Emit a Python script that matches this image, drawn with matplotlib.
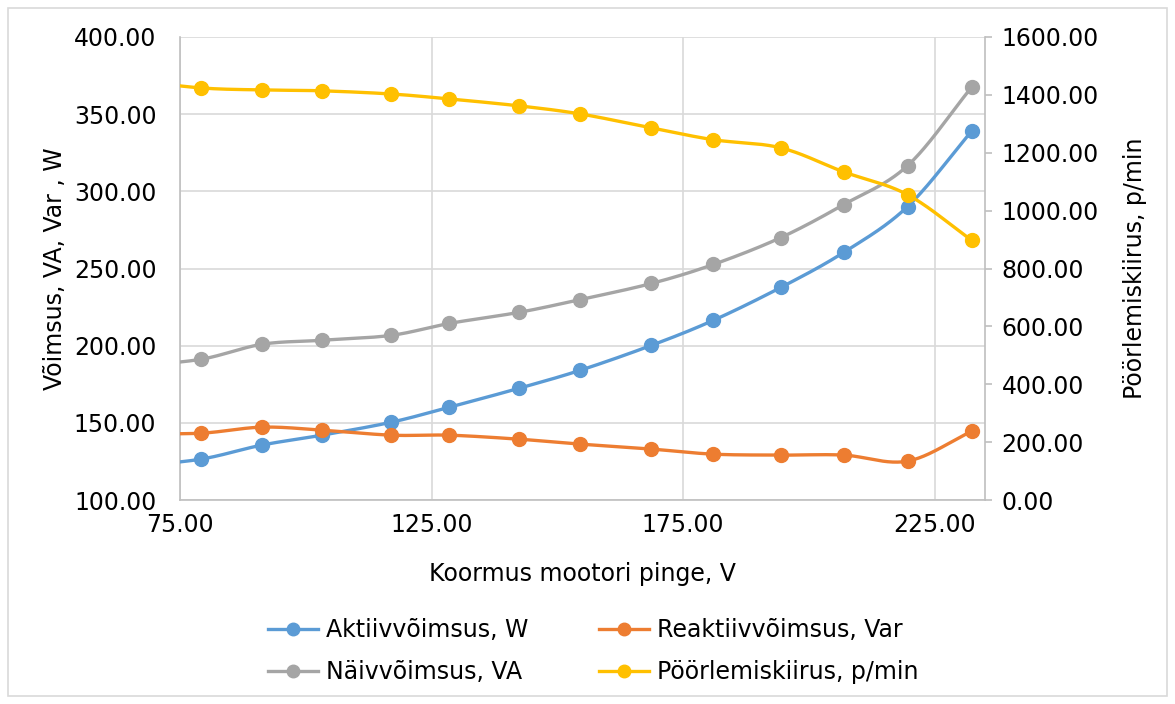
import numpy as np
import matplotlib
matplotlib.use("Agg")
import matplotlib.pyplot as plt
from matplotlib.patches import Rectangle

plt.rcParams['font.family'] = ['DejaVu Sans']

# Motor load voltage, V (first point lies just left of the visible axis range)
voltage = [66.0, 79.2, 91.3, 103.2, 117.0, 128.5, 142.4, 154.6, 168.7, 181.0, 194.4, 206.9, 219.6, 232.4]

active_power = [122.0, 126.5, 135.6, 142.0, 150.4, 160.1, 172.4, 184.1, 200.2, 216.4, 237.7, 260.4, 290.1, 339.2]
reactive_power = [143.0, 143.3, 147.2, 145.3, 142.0, 142.0, 139.4, 136.2, 133.0, 129.7, 129.1, 129.1, 125.2, 144.6]
apparent_power = [187.0, 191.2, 200.9, 203.5, 206.7, 214.4, 221.6, 229.9, 240.3, 252.6, 270.0, 291.4, 316.6, 367.7]
rotation_speed = [1450, 1424, 1417, 1414, 1403, 1386, 1362, 1334, 1286, 1245, 1217, 1134, 1055, 897]

series_names = ["Aktiivvõimsus, W", "Reaktiivvõimsus, Var", "Näivvõimsus, VA", "Pöörlemiskiirus, p/min"]
colors = ["#5B9BD5", "#ED7D31", "#A5A5A5", "#FFC000"]

x_ticks = [75, 125, 175, 225]
left_ticks = [100, 150, 200, 250, 300, 350, 400]
right_ticks = [0, 200, 400, 600, 800, 1000, 1200, 1400, 1600]


def smooth(xs, ys, n=40):
    """Catmull-Rom curve through the points, like a spreadsheet's smoothed line."""
    xs = np.asarray(xs, float)
    ys = np.asarray(ys, float)
    px = np.concatenate([[2 * xs[0] - xs[1]], xs, [2 * xs[-1] - xs[-2]]])
    py = np.concatenate([[2 * ys[0] - ys[1]], ys, [2 * ys[-1] - ys[-2]]])
    out_x, out_y = [], []
    t = np.linspace(0, 1, n)
    for i in range(1, len(px) - 2):
        x0, x1, x2, x3 = px[i - 1:i + 3]
        y0, y1, y2, y3 = py[i - 1:i + 3]
        # cubic Bezier with control points from neighbouring points
        c1x, c1y = x1 + (x2 - x0) / 6, y1 + (y2 - y0) / 6
        c2x, c2y = x2 - (x3 - x1) / 6, y2 - (y3 - y1) / 6
        bx = (1 - t) ** 3 * x1 + 3 * (1 - t) ** 2 * t * c1x + 3 * (1 - t) * t ** 2 * c2x + t ** 3 * x2
        by = (1 - t) ** 3 * y1 + 3 * (1 - t) ** 2 * t * c1y + 3 * (1 - t) * t ** 2 * c2y + t ** 3 * y2
        out_x.extend(bx)
        out_y.extend(by)
    return np.array(out_x), np.array(out_y)


fig = plt.figure(figsize=(11.75, 7.04), dpi=100)
fig.patches.append(Rectangle((8 / 1175, 8 / 704), 1 - 16 / 1175, 1 - 16 / 704,
                             transform=fig.transFigure, fill=False,
                             edgecolor="#D9D9D9", linewidth=1.2))

ax = fig.add_axes([180 / 1175, 1 - 500 / 704, 805 / 1175, 463 / 704])
ax2 = ax.twinx()

grid_col = "#D9D9D9"
lw = 2.4
ms = 10

handles = {}
for ys, col, name in zip([active_power, reactive_power, apparent_power], colors[:3], series_names[:3]):
    sx, sy = smooth(voltage, ys)
    ax.plot(sx, sy, color=col, lw=lw, solid_capstyle="round", zorder=3)
    ax.plot(voltage, ys, "o", color=col, ms=ms, zorder=4)
    h, = ax.plot([], [], "-o", color=col, lw=lw, ms=9, label=name)
    handles[name] = h

sx, sy = smooth(voltage, rotation_speed)
ax2.plot(sx, sy, color=colors[3], lw=lw, zorder=3)
ax2.plot(voltage, rotation_speed, "o", color=colors[3], ms=ms, zorder=4)
h, = ax2.plot([], [], "-o", color=colors[3], lw=lw, ms=9, label=series_names[3])
handles[series_names[3]] = h

ax.set_xlim(75, 235)
ax.set_ylim(100, 400)
ax2.set_ylim(0, 1600)
ax.set_xticks(x_ticks)
ax.set_xticklabels([f"{v:.2f}" for v in x_ticks])
ax.set_yticks(left_ticks)
ax.set_yticklabels([f"{v:.2f}" for v in left_ticks])
ax2.set_yticks(right_ticks)
ax2.set_yticklabels([f"{v:.2f}" for v in right_ticks])

ax.grid(True, color=grid_col, lw=1.2)
ax.set_axisbelow(True)

for a in (ax, ax2):
    for s in a.spines.values():
        s.set_visible(False)
for a, side in ((ax, "left"), (ax, "bottom"), (ax2, "right")):
    a.spines[side].set_visible(True)
    a.spines[side].set_color("#BFBFBF")
    a.spines[side].set_linewidth(1.2)

fs = 17
ax.tick_params(axis="both", length=0, labelsize=fs, colors="#000000")
ax.tick_params(axis="y", pad=17)
ax.tick_params(axis="x", pad=9)
ax2.tick_params(axis="y", length=5, width=1.2, color="#BFBFBF", labelsize=fs, pad=7)

ax.set_xlabel("Koormus mootori pinge, V", fontsize=fs, labelpad=18)
ax.set_ylabel("Võimsus, VA, Var , W", fontsize=fs, labelpad=5)
ax2.set_ylabel("Pöörlemiskiirus, p/min", fontsize=fs, labelpad=17)

# column-major fill: first column holds active + apparent, second reactive + speed
order = [series_names[0], series_names[2], series_names[1], series_names[3]]
fig.legend(handles=[handles[n] for n in order],
           loc="center", bbox_to_anchor=(0.505, 1 - 651 / 704), ncol=2,
           frameon=False, fontsize=fs, handlelength=2.1, columnspacing=3.0,
           handletextpad=0.35, labelspacing=0.75)

fig.savefig("out.png", dpi=100)
